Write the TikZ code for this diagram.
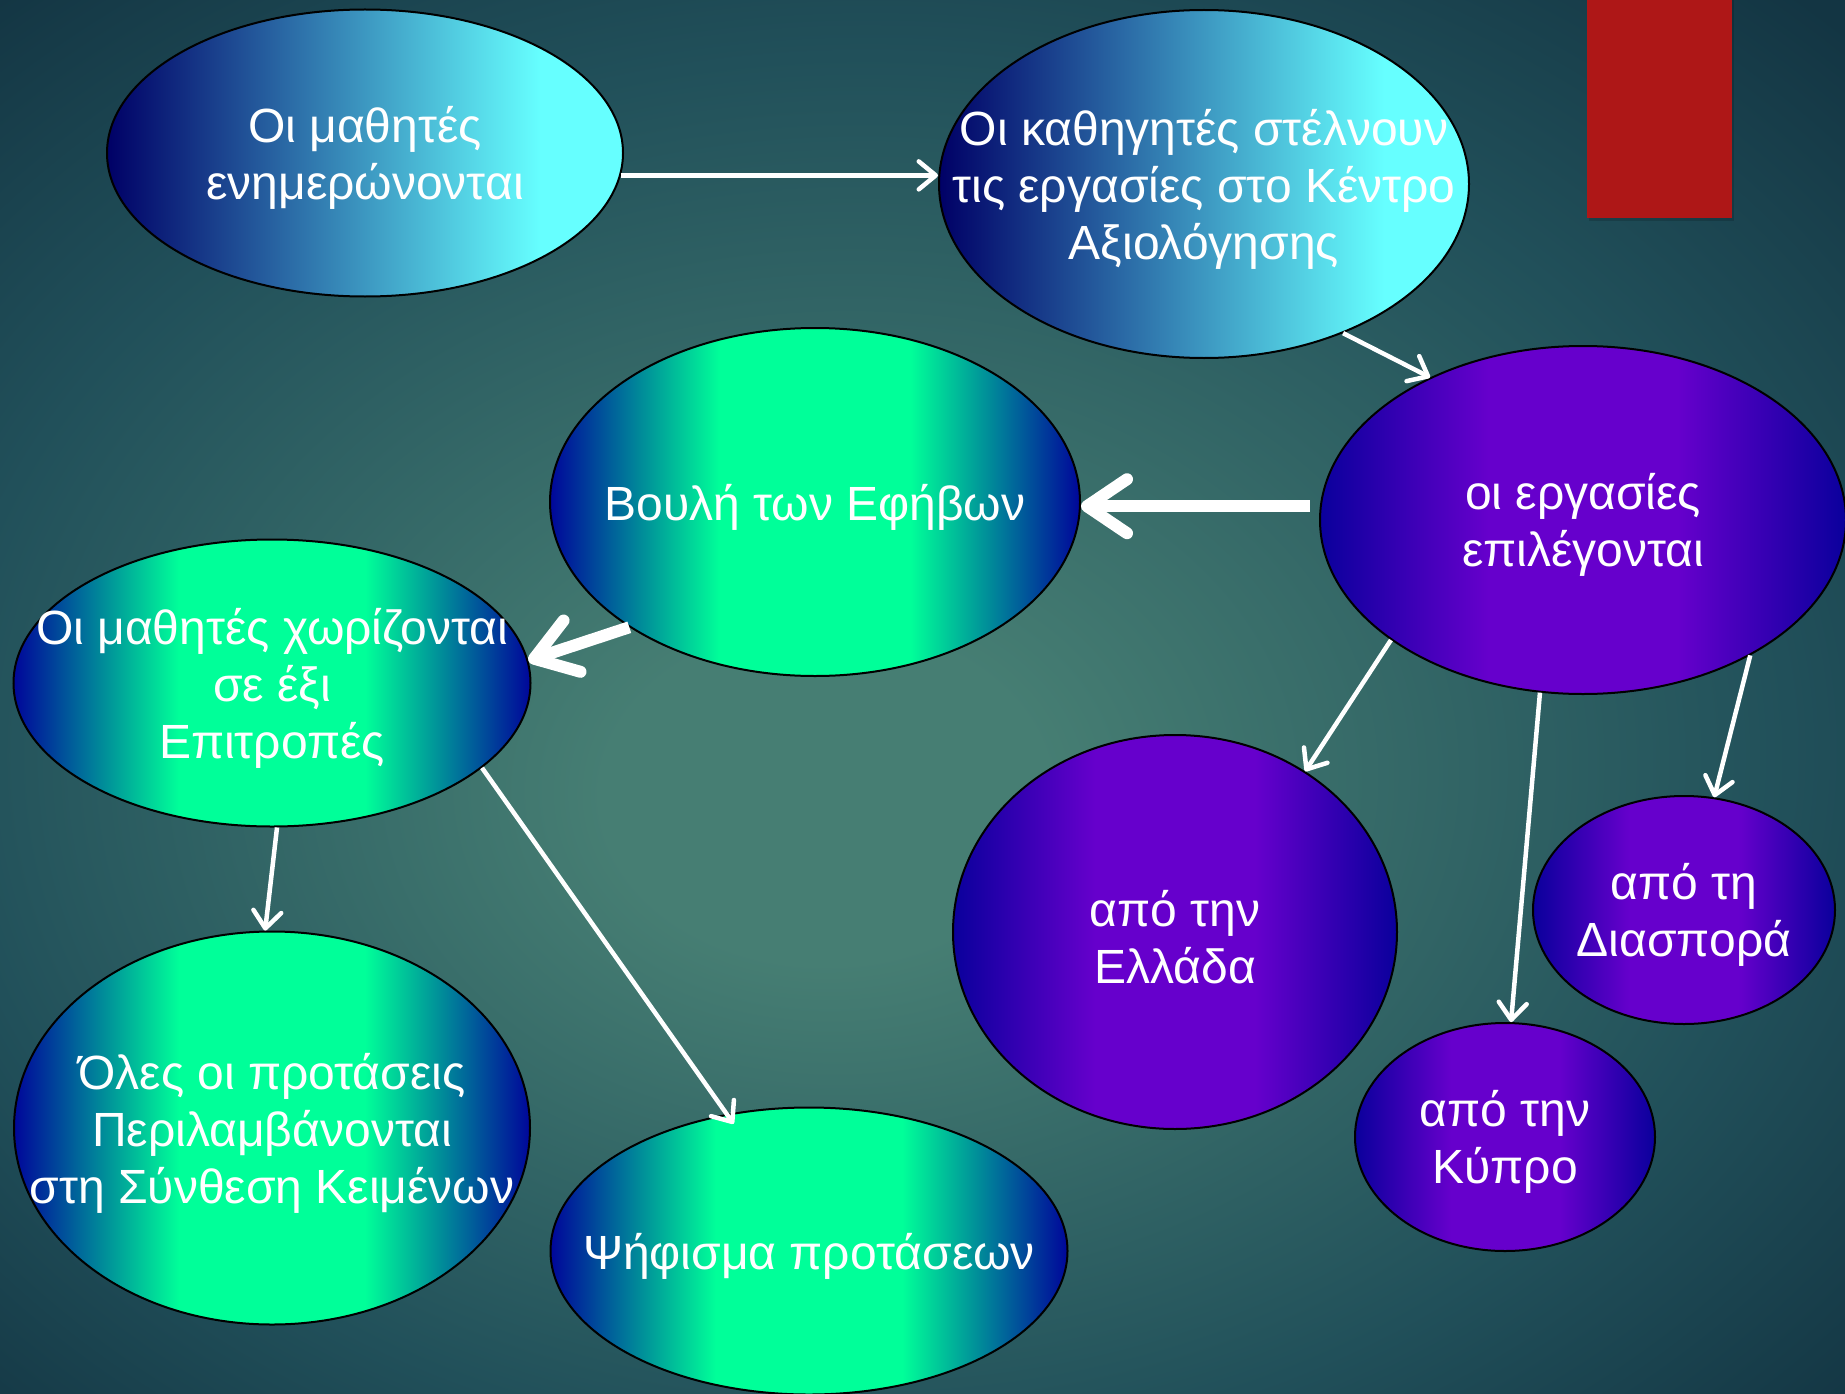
\documentclass[tikz,border=0pt]{standalone}
\usepackage{fontspec}
\setmainfont{Liberation Sans}
\usetikzlibrary{shapes.geometric,arrows.meta}

\definecolor{bgmid}{HTML}{467E73}
\definecolor{bgedge}{HTML}{21505A}
\definecolor{bgcorner}{HTML}{133543}
\definecolor{navyA}{HTML}{000066}
\definecolor{cyanA}{HTML}{66FFFF}
\definecolor{navyB}{HTML}{00069A}
\definecolor{greenA}{HTML}{00FF99}
\definecolor{navyC}{HTML}{0A009C}
\definecolor{purpleA}{HTML}{6600CC}
\definecolor{flagred}{HTML}{AE1717}

\pgfdeclareradialshading{slidebg}{\pgfpoint{-3bp}{-4bp}}{color(0bp)=(bgmid); color(6bp)=(bgmid); color(25bp)=(bgedge); color(36bp)=(bgcorner); color(50bp)=(bgcorner)}
\pgfdeclarehorizontalshading{cyanshade}{100bp}{color(0bp)=(navyA); color(25bp)=(navyA); color(67bp)=(cyanA); color(100bp)=(cyanA)}
\pgfdeclarehorizontalshading{greenshade}{100bp}{color(0bp)=(navyB); color(25bp)=(navyB); color(41bp)=(greenA); color(59bp)=(greenA); color(75bp)=(navyB); color(100bp)=(navyB)}
\pgfdeclarehorizontalshading{purpleshade}{100bp}{color(0bp)=(navyC); color(25bp)=(navyC); color(41bp)=(purpleA); color(59bp)=(purpleA); color(75bp)=(navyC); color(100bp)=(navyC)}

\begin{document}
\begin{tikzpicture}[x=1pt,y=-1pt,
  bubble/.style={ellipse, draw=black, line width=2pt, inner sep=0pt},
  cyanbubble/.style={bubble, shading=cyanshade},
  greenbubble/.style={bubble, shading=greenshade},
  purplebubble/.style={bubble, shading=purpleshade},
  txt/.style={text=white, align=center, inner sep=0pt, yshift=-5pt, font=\fontsize{48pt}{57pt}\selectfont},
  thinarrow/.style={draw=white, line width=4.5pt, -{Straight Barb[length=17pt,width=28pt,round]}},
  thickarrow/.style={draw=white, line width=12pt, -{Straight Barb[length=40pt,width=54pt,round]}}]

% Background
\shade[shading=slidebg] (0,0) rectangle (1845,1394);
\useasboundingbox (0,0) rectangle (1845,1394);

% Red tab
\fill[black, opacity=0.15] (1589,0) rectangle (1734,221);
\fill[flagred] (1587,0) rectangle (1732,218);

% --- Top row ---
\node[cyanbubble, minimum width=516pt, minimum height=287pt] (inform) at (365,153) {};
\node[txt] (inform-t) at (inform) {Οι μαθητές\\ενημερώνονται};

\node[cyanbubble, minimum width=530pt, minimum height=348pt] (teachers) at (1204,184) {};
\node[txt] (teachers-t) at (teachers) {Οι καθηγητές στέλνουν\\τις εργασίες στο Κέντρο\\Αξιολόγησης};

% --- Selection ---
\node[purplebubble, minimum width=526pt, minimum height=348pt] (selected) at (1583,520) {};
\node[txt] (selected-t) at (selected) {οι εργασίες\\επιλέγονται};

\node[purplebubble, minimum width=444pt, minimum height=394pt] (greece) at (1175,932) {};
\node[txt] (greece-t) at (greece) {από την\\Ελλάδα};

\node[purplebubble, minimum width=302pt, minimum height=228pt] (diaspora) at (1684,910) {};
\node[txt] (diaspora-t) at (diaspora) {από τη\\Διασπορά};

\node[purplebubble, minimum width=300pt, minimum height=228pt] (cyprus) at (1505,1137) {};
\node[txt] (cyprus-t) at (cyprus) {από την\\Κύπρο};

% --- Council ---
\node[greenbubble, minimum width=530pt, minimum height=348pt] (council) at (815,502) {};
\node[txt] (council-t) at (council) {Βουλή των Εφήβων};

\node[greenbubble, minimum width=517pt, minimum height=287pt] (committees) at (272,683) {};
\node[txt] (committees-t) at (committees) {Οι μαθητές χωρίζονται\\σε έξι\\Επιτροπές};

\node[greenbubble, minimum width=516pt, minimum height=393pt] (texts) at (272,1128) {};
\node[txt] (texts-t) at (texts) {Όλες οι προτάσεις\\Περιλαμβάνονται\\στη Σύνθεση Κειμένων};

\node[greenbubble, minimum width=517pt, minimum height=287pt] (vote) at (809,1251) {};
\node[txt] (vote-t) at (vote) {Ψήφισμα προτάσεων};

% Arrows
\draw[thinarrow] (inform.-5) -- (inform.-5 -| teachers.west);
\draw[thinarrow] (teachers.-47) -- (selected.137);
\draw[thickarrow, shorten <=10pt] (selected.177) -- (selected.177 -| council.east);
\draw[thickarrow] (council.-146) -- (committees.5);
\draw[thinarrow] (committees.-88) -- (texts.92);
\draw[thinarrow, shorten >=-12pt] (committees.-22) -- (vote.121);
\draw[thinarrow] (selected.-148) -- (greece.51);
\draw[thinarrow] (selected.-104) -- (cyprus.87);
\draw[thinarrow] (selected.-39) -- (diaspora.75);

\end{tikzpicture}
\end{document}
